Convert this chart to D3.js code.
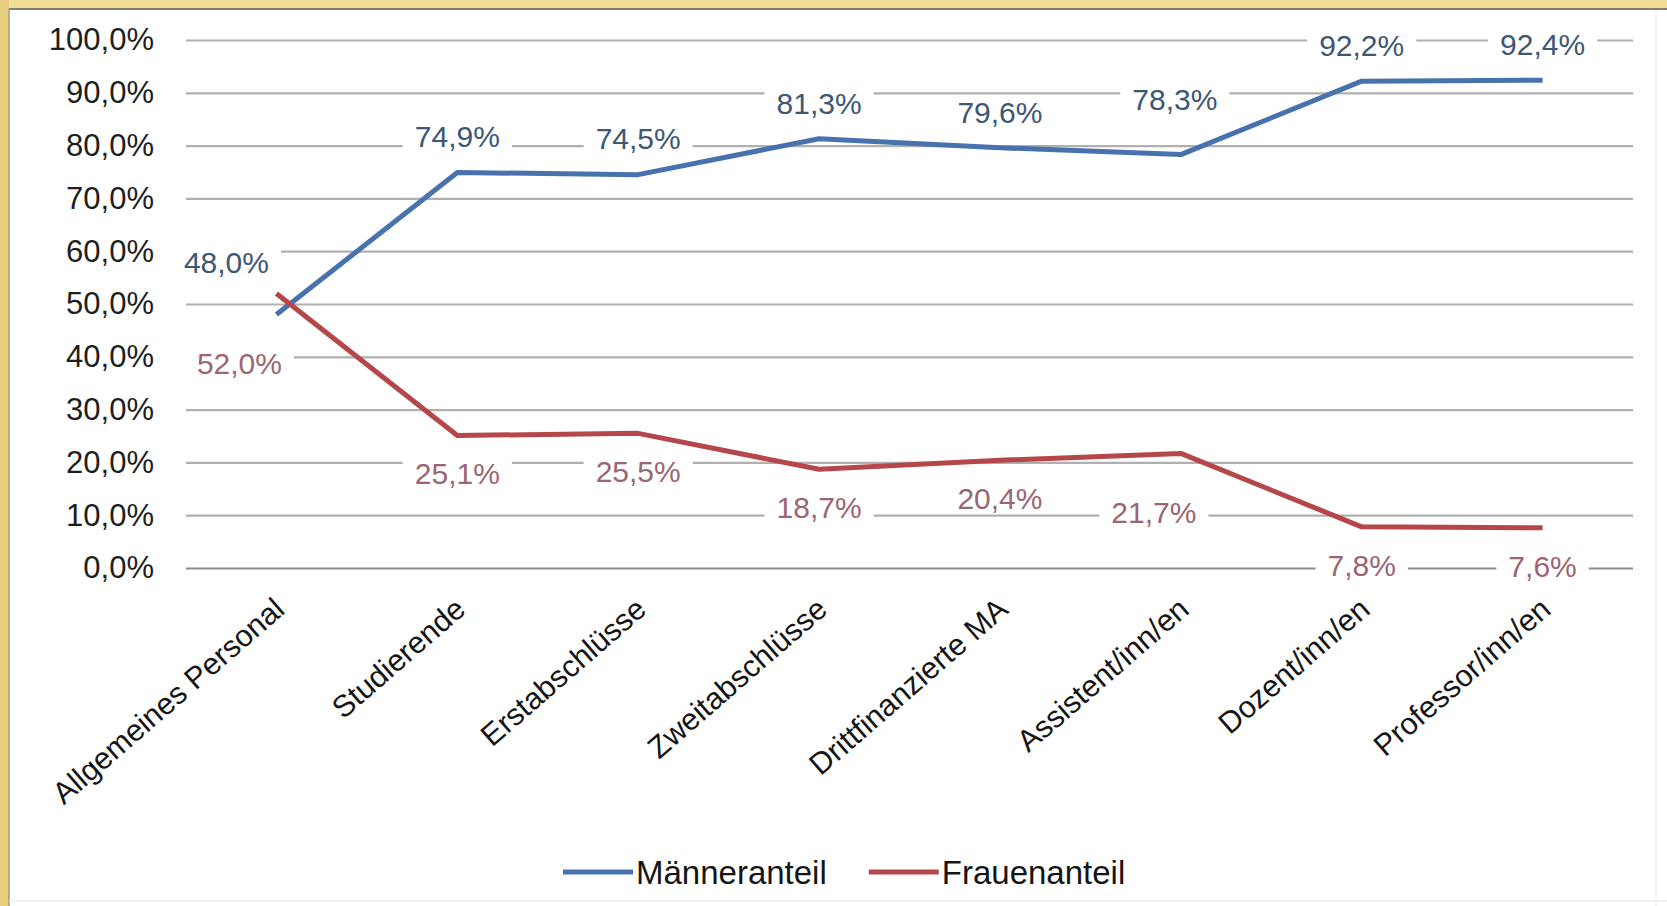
<!DOCTYPE html>
<html lang="de">
<head>
<meta charset="utf-8">
<title>Männer- und Frauenanteil</title>
<script src="https://cdn.jsdelivr.net/npm/d3@7/dist/d3.min.js"></script>
<style>
  html, body { margin: 0; padding: 0; background: #f1dc98; overflow: hidden; }
  svg { display: block; }
  text { font-family: "Liberation Sans", Arial, sans-serif; }
</style>
</head>
<body>
<svg id="chart" width="1667" height="906"></svg>
<script>
// Categories along the x axis
const categories = [
  "Allgemeines Personal", "Studierende", "Erstabschlüsse", "Zweitabschlüsse",
  "Drittfinanzierte MA", "Assistent/inn/en", "Dozent/inn/en", "Professor/inn/en"
];
// Shares in percent
const menShare   = [48.0, 74.9, 74.5, 81.3, 79.6, 78.3, 92.2, 92.4];
const womenShare = [52.0, 25.1, 25.5, 18.7, 20.4, 21.7, 7.8, 7.6];
// Y axis ticks (percent)
const yTicks = [0, 10, 20, 30, 40, 50, 60, 70, 80, 90, 100];
const seriesNames = ["Männeranteil", "Frauenanteil"];

const W = 1667, H = 906;
const svg = d3.select("#chart");

// --- slide frame: golden background with a white chart panel
svg.append("rect").attr("x", 0).attr("y", 0).attr("width", W).attr("height", H).attr("fill", "#f1dc98");
svg.append("rect").attr("x", 0).attr("y", 0).attr("width", 9).attr("height", H).attr("fill", "#e8cd7f");
svg.append("rect").attr("x", 9).attr("y", 9).attr("width", W - 9).attr("height", H - 9).attr("fill", "#ffffff");
svg.append("line").attr("x1", 9).attr("x2", W).attr("y1", 9).attr("y2", 9)
  .attr("stroke", "#857c6c").attr("stroke-width", 2);
svg.append("line").attr("x1", 9).attr("x2", 9).attr("y1", 9).attr("y2", H)
  .attr("stroke", "#a39a88").attr("stroke-width", 1.5);
svg.append("line").attr("x1", 1656).attr("x2", 1656).attr("y1", 10).attr("y2", H)
  .attr("stroke", "#eeeeee").attr("stroke-width", 1.5);
svg.append("line").attr("x1", 9).attr("x2", W).attr("y1", 901).attr("y2", 901)
  .attr("stroke", "#eeeeee").attr("stroke-width", 1.5);

// --- scales
const plotLeft = 186, plotRight = 1633, plotTop = 40, plotBottom = 568;
const x = d3.scaleBand().domain(categories).range([plotLeft, plotRight]);
const cx = c => x(c) + x.bandwidth() / 2;
const y = d3.scaleLinear().domain([0, 100]).range([plotBottom, plotTop]);

const de = d3.formatLocale({ decimal: ",", thousands: ".", grouping: [3], currency: ["", " €"] });
const pct = v => de.format(".1f")(v) + "%";

// --- y axis with gridlines
const yAxis = svg.append("g")
  .attr("transform", `translate(${plotLeft},0)`)
  .call(d3.axisLeft(y).tickValues(yTicks).tickSize(-(plotRight - plotLeft)).tickPadding(32).tickFormat(pct));
yAxis.select(".domain").remove();
yAxis.selectAll(".tick line")
  .attr("stroke", d => d === 0 ? "#8c8c8c" : "#b0b0b0")
  .attr("stroke-width", 2.2);
yAxis.selectAll(".tick text")
  .attr("font-size", 31).attr("fill", "#1e1e1e")
  .attr("font-family", "'Liberation Sans', Arial, sans-serif");

// --- x axis category labels (rotated)
const xAxis = svg.append("g")
  .attr("transform", `translate(0,${plotBottom})`)
  .call(d3.axisBottom(x).tickSize(0).tickFormat(d => d));
xAxis.select(".domain").remove();
xAxis.selectAll(".tick text")
  .attr("font-size", 30.5).attr("fill", "#151515")
  .attr("font-family", "'Liberation Sans', Arial, sans-serif")
  .attr("text-anchor", "end")
  .attr("dy", null).attr("y", 0)
  .attr("transform", "translate(10,44) rotate(-41)");

// --- data label layout: default offset above (men) / below (women) the point,
// with a few labels nudged aside where the lines cross
const baseOffset = { men: -36, women: 38 };
const nudge = {
  men:   { 0: [-50, -16], 5: [-6, -19] },
  women: { 0: [-37, 32],  5: [-27, 21] }
};

const series = [
  { key: "men",   name: seriesNames[0], values: menShare,   line: "#4872ad", label: "#3d5775" },
  { key: "women", name: seriesNames[1], values: womenShare, line: "#b5474a", label: "#9c6572" }
];

const labelLayer = svg.append("g");
const lineLayer = svg.append("g");
const textLayer = svg.append("g");

const lineGen = d3.line().x((d, i) => cx(categories[i])).y(d => y(d));

series.forEach(s => {
  lineLayer.append("path")
    .datum(s.values)
    .attr("fill", "none")
    .attr("stroke", s.line)
    .attr("stroke-width", 5)
    .attr("stroke-linejoin", "round")
    .attr("d", lineGen);

  s.values.forEach((v, i) => {
    const n = (nudge[s.key][i]) || [0, 0];
    const lx = cx(categories[i]) + n[0];
    const ly = y(v) + baseOffset[s.key] + n[1];
    const t = textLayer.append("text")
      .attr("x", lx).attr("y", ly).attr("dy", "0.36em")
      .attr("text-anchor", "middle")
      .attr("font-size", 30)
      .attr("fill", s.label)
      .text(pct(v));
    const bb = t.node().getBBox();
    labelLayer.append("rect")
      .attr("x", bb.x - 12).attr("y", bb.y + 3)
      .attr("width", bb.width + 24).attr("height", bb.height - 6)
      .attr("fill", "#ffffff");
  });
});

// --- legend
const legend = svg.append("g").attr("transform", "translate(563,872)");
let lx = 0;
series.forEach((s, i) => {
  const g = legend.append("g").attr("transform", `translate(${lx},0)`);
  g.append("line").attr("x1", 0).attr("x2", 70).attr("y1", 0).attr("y2", 0)
    .attr("stroke", s.line).attr("stroke-width", 5);
  const t = g.append("text").attr("x", 73).attr("y", 0).attr("dy", "0.36em")
    .attr("font-size", 33).attr("fill", "#151515").text(s.name);
  lx += 73 + t.node().getComputedTextLength() + 42;
});
</script>
</body>
</html>
